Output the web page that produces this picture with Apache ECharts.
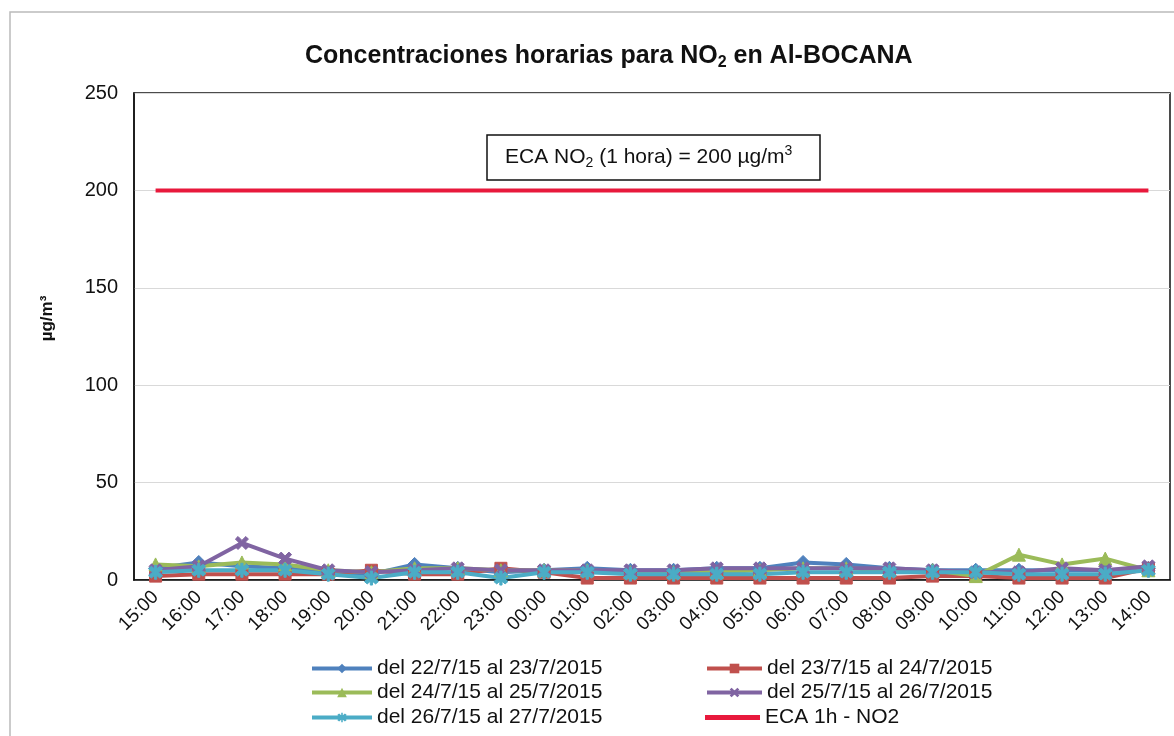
<!DOCTYPE html>
<html><head><meta charset="utf-8">
<script src="https://cdn.jsdelivr.net/npm/echarts@6/dist/echarts.min.js"></script>
<style>html,body{margin:0;padding:0;background:#fff}#c{width:1174px;height:736px}</style>
</head><body><div id="c"></div>
<script>
const categories = ['15:00','16:00','17:00','18:00','19:00','20:00','21:00','22:00','23:00','00:00','01:00','02:00','03:00','04:00','05:00','06:00','07:00','08:00','09:00','10:00','11:00','12:00','13:00','14:00'];
const s22 = [6, 9, 7, 6, 4, 3, 8, 6, 4, 5, 6, 5, 5, 6, 6, 9, 8, 6, 5, 5, 5, 5, 5, 6];
const s23 = [2, 3, 3, 3, 3, 5, 3, 3, 6, 4, 1, 1, 1, 1, 1, 1, 1, 1, 2, 2, 1, 1, 1, 6];
const s24 = [8, 7, 9, 8, 5, 4, 6, 6, 5, 5, 5, 4, 4, 4, 5, 6, 6, 5, 5, 2, 13, 8, 11, 5];
const s25 = [5, 7, 19, 11, 5, 4, 5, 6, 5, 5, 5, 5, 5, 6, 6, 6, 6, 6, 5, 4, 4, 6, 5, 7];
const s26 = [4, 5, 5, 5, 3, 1, 4, 4, 1, 4, 4, 3, 3, 3, 3, 4, 4, 4, 4, 4, 3, 3, 3, 5];
const eca = [200,200,200,200,200,200,200,200,200,200,200,200,200,200,200,200,200,200,200,200,200,200,200,200];
const names = ['del 22/7/15 al 23/7/2015','del 23/7/15 al 24/7/2015','del 24/7/15 al 25/7/2015','del 25/7/15 al 26/7/2015','del 26/7/15 al 27/7/2015','ECA 1h - NO2'];
const yTicks = [0, 50, 100, 150, 200, 250];

const xSym = 'path://M0,2 L2,0 L5,3 L8,0 L10,2 L7,5 L10,8 L8,10 L5,7 L2,10 L0,8 L3,5 Z';
const starSym = 'path://M0,2 L2,0 L5,3 L8,0 L10,2 L7,5 L10,8 L8,10 L5,7 L2,10 L0,8 L3,5 Z M4.2,-1 L5.8,-1 L5.8,11 L4.2,11 Z';

function mk(name, data, color, symbol, size) {
  return {name, type:'line', data, symbol, symbolSize:size,
    lineStyle:{color, width:4}, itemStyle:{color, borderColor:color},
    emphasis:{disabled:true}, animation:false};
}
const FONT = 'Liberation Sans, Arial, sans-serif';
function lg(name, left, top, w, extra) {
  return Object.assign({data:[name], left, top, itemWidth:w, itemHeight:12, itemGap:0, padding:0,
    lineStyle:{width:4}, textStyle:{fontSize:21, color:'#111', fontFamily:FONT}}, extra || {});
}
const chart = echarts.init(document.getElementById('c'));
chart.setOption({
  animation:false,
  backgroundColor:'#fff',
  textStyle:{fontFamily:FONT},
  title:{
    text:'Concentraciones horarias para NO{sub|2} en Al-BOCANA',
    left:300, top:36,
    textStyle:{fontSize:25, fontWeight:'bold', color:'#111', fontFamily:FONT,
      rich:{sub:{fontSize:16, fontWeight:'bold', verticalAlign:'bottom', padding:[14,0,0,0], color:'#111'}}}
  },
  grid:{left:134, right:4, top:93, bottom:156, show:true, borderColor:'#111', borderWidth:1.5},
  xAxis:{type:'category', data:categories, boundaryGap:true,
    axisLine:{lineStyle:{color:'#111', width:1.5}},
    axisTick:{show:false},
    axisLabel:{rotate:45, fontSize:19, color:'#111', margin:14, interval:0}},
  yAxis:{type:'value', min:0, max:250, interval:50,
    name:'µg/m³', nameLocation:'middle', nameGap:78, nameRotate:90,
    nameTextStyle:{fontSize:17, fontWeight:'bold', color:'#111', padding:[0,0,0,36]},
    axisLine:{show:true, lineStyle:{color:'#111', width:1.5}},
    axisTick:{show:false},
    axisLabel:{fontSize:20, color:'#111', margin:16, formatter:v=>yTicks.includes(v)?String(v):''},
    splitLine:{lineStyle:{color:'#d9d9d9', width:1}}},
  legend:[
    lg(names[0], 310, 658, 60),
    lg(names[2], 310, 682, 60),
    lg(names[4], 310, 707, 60),
    lg(names[1], 705, 658, 55),
    lg(names[3], 705, 682, 55),
    lg(names[5], 705, 707, 55, {icon:'rect', itemHeight:5})
  ],
  graphic:[
    {type:'rect', shape:{x:10, y:12, width:1170, height:740}, style:{fill:'none', stroke:'#bbb', lineWidth:1.5}, silent:true},
    {type:'rect', shape:{x:487, y:135, width:333, height:45}, style:{fill:'#fff', stroke:'#111', lineWidth:1.5}, z:100},
    {type:'text', left:505, top:144, z:101,
      style:{text:'ECA NO{sub|2} (1 hora) = 200 µg/m{sup|3}', fontSize:21, fill:'#111', fontFamily:FONT,
        rich:{sub:{fontSize:14, verticalAlign:'bottom', padding:[12,0,0,0], fill:'#111'}, sup:{fontSize:14, verticalAlign:'top', padding:[0,0,10,0], fill:'#111'}}}}
  ],
  series:[
    mk(names[0], s22, '#4f81bd', 'diamond', 14),
    mk(names[1], s23, '#c0504d', 'rect', 12),
    mk(names[2], s24, '#9bbb59', 'triangle', 13),
    mk(names[3], s25, '#8064a2', xSym, 13),
    mk(names[4], s26, '#4bacc6', starSym, 14),
    {name:names[5], type:'line', data:eca, symbol:'none', lineStyle:{color:'#e8193c', width:4}, itemStyle:{color:'#e8193c'}, emphasis:{disabled:true}, z:1}
  ]
});
</script></body></html>
